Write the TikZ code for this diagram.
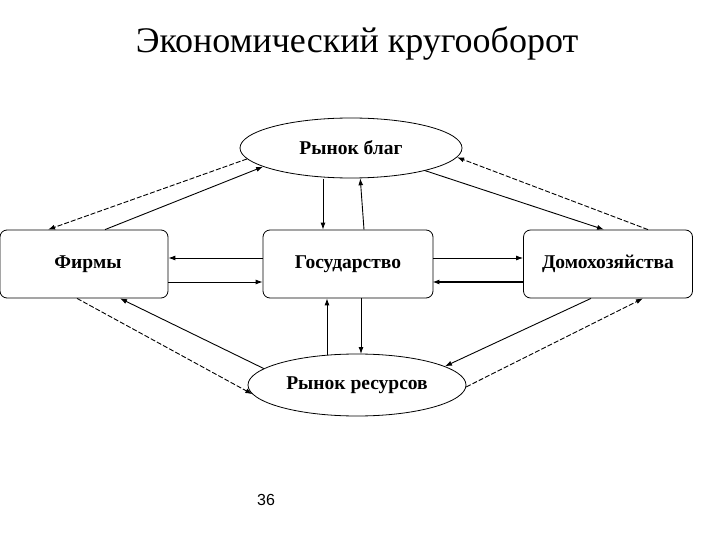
\documentclass[tikz,border=0pt]{standalone}
\usepackage{fontspec}
\setmainfont{Liberation Serif}
\newfontfamily\sansf{Liberation Sans}
\usetikzlibrary{shapes.geometric,arrows.meta,calc}
\begin{document}
\begin{tikzpicture}[x=1pt,y=-1pt,
  box/.style={draw,rounded corners=7pt,line width=0.8pt,inner sep=0pt,font=\bfseries\fontsize{19.5}{22}\selectfont},
  oval/.style={draw,ellipse,line width=0.8pt,inner sep=0pt,font=\bfseries\fontsize{19.5}{22}\selectfont},
  sl/.style={line width=0.9pt,-{Latex[length=7pt,width=5pt]}},
  dl/.style={sl,dashed,dash pattern=on 5pt off 2pt}]
\useasboundingbox (0,0) rectangle (720,540);
\node[font=\fontsize{36}{40}\selectfont] (title) at (357,44) {Экономический кругооборот};
\node[oval,minimum width=222pt,minimum height=60pt] (top) at (351,148) {Рынок благ};
\node[oval,minimum width=218pt,minimum height=62pt] (bot) at (357,385) {Рынок ресурсов};
\node[box,minimum width=168pt,minimum height=68pt] (firms) at (84,264) {\raisebox{-4pt}{\hspace*{8pt}Фирмы}};
\node[box,minimum width=170pt,minimum height=68pt] (gov) at (348,264) {\raisebox{1pt}{Государство}};
\node[box,minimum width=169pt,minimum height=68pt] (hh) at (608,264) {\raisebox{1pt}{Домохозяйства}};
\node[font=\sansf\fontsize{16}{18}\selectfont] (pg) at (266,500) {36};
% top
\draw[dl] (top.186) -- (48,0 |- firms.north);
\draw[sl] (105,0 |- firms.north) -- (top.192);
\draw[sl] (323,179) -- (323,0 |- gov.north);
\draw[sl] (364,0 |- gov.north) -- (top.287);
\draw[sl] (top.343) -- (604,0 |- hh.north);
\draw[dl] (648,0 |- hh.north) -- (top.355);
% middle
\draw[sl] (gov.west |- 0,258) -- (firms.east |- 0,258);
\draw[sl] (firms.east |- 0,282) -- (gov.west |- 0,282);
\draw[sl] (gov.east |- 0,258) -- (hh.west |- 0,258);
\draw[sl,line width=1.6pt] (hh.west |- 0,282) -- ($(gov.east |- 0,282)+(-1,0)$);
% bottom
\draw[dl] (77,0 |- firms.south) -- (bot.185);
\draw[sl] (bot.170) -- (120,0 |- firms.south);
\draw[sl] (327,355) -- (327,0 |- gov.south);
\draw[sl] (361,0 |- gov.south) -- (361,354);
\draw[sl] (591,0 |- hh.south) -- (bot.12);
\draw[dl] (bot.359) -- (643,0 |- hh.south);
\end{tikzpicture}
\end{document}
